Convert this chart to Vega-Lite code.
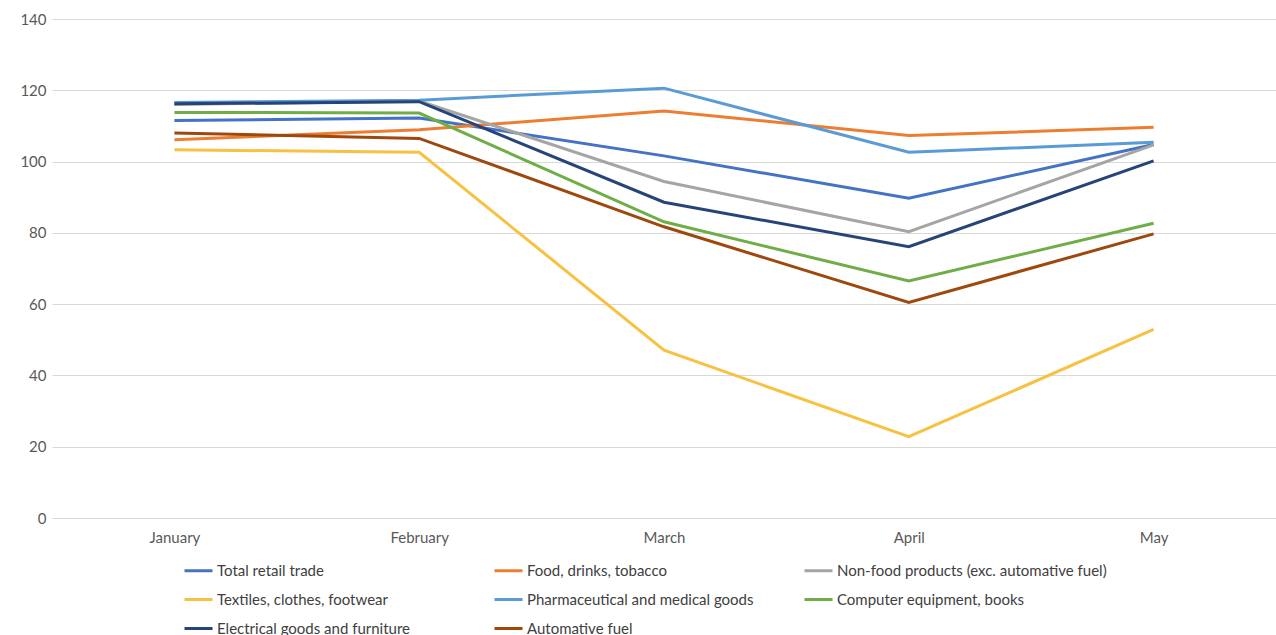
{
  "$schema": "https://vega.github.io/schema/vega-lite/v6.json",
  "width": 1224,
  "height": 499,
  "autosize": "none",
  "padding": {"left": 52, "top": 19, "right": 0, "bottom": 117},
  "background": "white",
  "config": {
    "view": {"stroke": null},
    "font": "Lato",
    "axis": {"labelFont": "Lato", "labelFontSize": 15, "labelColor": "#595959"}
  },
  "data": {
    "values": [
      {"series": "Total retail trade", "month": "January", "value": 111.5},
      {"series": "Total retail trade", "month": "February", "value": 112.2},
      {"series": "Total retail trade", "month": "March", "value": 101.6},
      {"series": "Total retail trade", "month": "April", "value": 89.7},
      {"series": "Total retail trade", "month": "May", "value": 104.8},
      {"series": "Food, drinks, tobacco", "month": "January", "value": 106.1},
      {"series": "Food, drinks, tobacco", "month": "February", "value": 108.9},
      {"series": "Food, drinks, tobacco", "month": "March", "value": 114.2},
      {"series": "Food, drinks, tobacco", "month": "April", "value": 107.3},
      {"series": "Food, drinks, tobacco", "month": "May", "value": 109.6},
      {"series": "Non-food products (exc. automative fuel)", "month": "January", "value": 116.0},
      {"series": "Non-food products (exc. automative fuel)", "month": "February", "value": 117.0},
      {"series": "Non-food products (exc. automative fuel)", "month": "March", "value": 94.4},
      {"series": "Non-food products (exc. automative fuel)", "month": "April", "value": 80.3},
      {"series": "Non-food products (exc. automative fuel)", "month": "May", "value": 104.7},
      {"series": "Textiles, clothes, footwear", "month": "January", "value": 103.3},
      {"series": "Textiles, clothes, footwear", "month": "February", "value": 102.6},
      {"series": "Textiles, clothes, footwear", "month": "March", "value": 47.1},
      {"series": "Textiles, clothes, footwear", "month": "April", "value": 22.8},
      {"series": "Textiles, clothes, footwear", "month": "May", "value": 52.9},
      {"series": "Pharmaceutical and medical goods", "month": "January", "value": 116.6},
      {"series": "Pharmaceutical and medical goods", "month": "February", "value": 117.2},
      {"series": "Pharmaceutical and medical goods", "month": "March", "value": 120.6},
      {"series": "Pharmaceutical and medical goods", "month": "April", "value": 102.6},
      {"series": "Pharmaceutical and medical goods", "month": "May", "value": 105.4},
      {"series": "Computer equipment, books", "month": "January", "value": 113.8},
      {"series": "Computer equipment, books", "month": "February", "value": 113.6},
      {"series": "Computer equipment, books", "month": "March", "value": 83.1},
      {"series": "Computer equipment, books", "month": "April", "value": 66.5},
      {"series": "Computer equipment, books", "month": "May", "value": 82.7},
      {"series": "Electrical goods and furniture", "month": "January", "value": 116.2},
      {"series": "Electrical goods and furniture", "month": "February", "value": 116.8},
      {"series": "Electrical goods and furniture", "month": "March", "value": 88.6},
      {"series": "Electrical goods and furniture", "month": "April", "value": 76.1},
      {"series": "Electrical goods and furniture", "month": "May", "value": 100.2},
      {"series": "Automative fuel", "month": "January", "value": 108.0},
      {"series": "Automative fuel", "month": "February", "value": 106.5},
      {"series": "Automative fuel", "month": "March", "value": 81.7},
      {"series": "Automative fuel", "month": "April", "value": 60.5},
      {"series": "Automative fuel", "month": "May", "value": 79.7}
    ]
  },
  "mark": {"type": "line", "strokeWidth": 3, "strokeJoin": "miter"},
  "encoding": {
    "x": {
      "field": "month",
      "type": "nominal",
      "sort": ["January", "February", "March", "April", "May"],
      "title": null,
      "axis": {"labelAngle": 0, "domain": false, "ticks": false, "labelPadding": 12, "grid": false}
    },
    "y": {
      "field": "value",
      "type": "quantitative",
      "scale": {"domain": [0, 140], "nice": false},
      "title": null,
      "axis": {"values": [0, 20, 40, 60, 80, 100, 120, 140], "domain": false, "ticks": false, "labelPadding": 6, "grid": true, "gridColor": "#d9d9d9", "gridWidth": 1}
    },
    "color": {
      "field": "series",
      "type": "nominal",
      "sort": null,
      "scale": {
        "domain": ["Total retail trade", "Food, drinks, tobacco", "Non-food products (exc. automative fuel)", "Textiles, clothes, footwear", "Pharmaceutical and medical goods", "Computer equipment, books", "Electrical goods and furniture", "Automative fuel"],
        "range": ["#4472C4", "#ED7D31", "#A5A5A5", "#F7C242", "#5B9BD5", "#70AD47", "#264478", "#9E480E"]
      },
      "legend": {
        "title": null,
        "orient": "none",
        "legendX": 131,
        "legendY": 536,
        "direction": "horizontal",
        "columns": 3,
        "gridAlign": "all",
        "columnPadding": 1,
        "rowPadding": 5,
        "symbolType": "stroke",
        "symbolSize": 784,
        "symbolStrokeWidth": 3,
        "labelOffset": 3,
        "labelFont": "Lato",
        "labelFontSize": 15,
        "labelColor": "#404040",
        "labelLimit": 400,
        "padding": 0
      }
    }
  }
}
